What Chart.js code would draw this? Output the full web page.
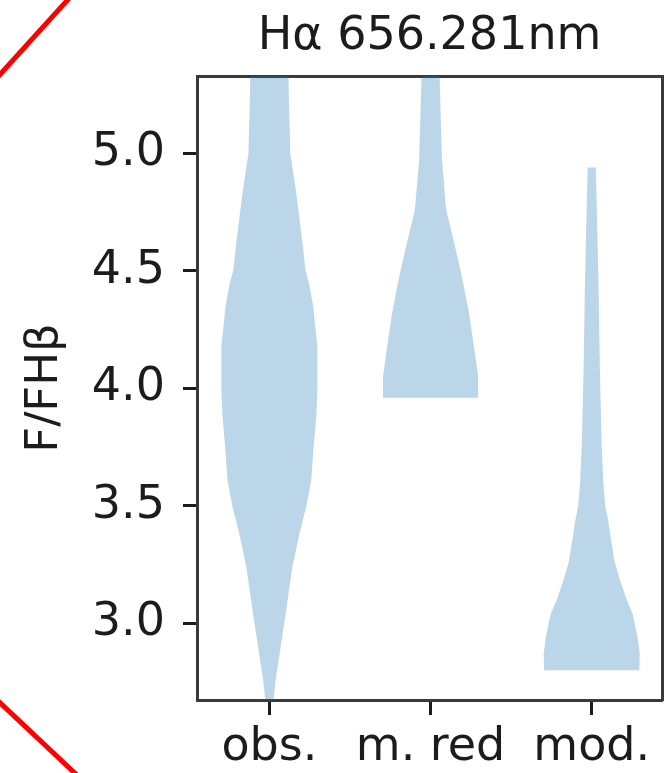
<!DOCTYPE html>
<html>
<head>
<meta charset="utf-8">
<script src="https://cdn.jsdelivr.net/npm/chart.js@4.4.1/dist/chart.umd.min.js"></script>
<style>
  html, body { margin: 0; padding: 0; background: #fff; }
  #wrap { position: relative; width: 665px; height: 773px; }
</style>
</head>
<body>
<div id="wrap"><canvas id="c" width="665" height="773"></canvas></div>
<script>
// Categories along the x axis (violin centres at 0, 1, 2)
const categories = ['obs.', 'm. red', 'mod.'];

// Violin outlines: flux ratio levels and the half-width of the body at each level (x-axis units)
const obsLevels    = [2.67, 2.75, 2.89, 3.03, 3.24, 3.38, 3.50, 3.61, 3.74, 3.89, 4.00, 4.18, 4.26, 4.35, 4.44, 4.50, 4.65, 4.83, 5.00, 5.15, 5.33];
const obsHalfWidth = [0.025, 0.037, 0.068, 0.099, 0.143, 0.186, 0.230, 0.260, 0.273, 0.292, 0.298, 0.298, 0.285, 0.272, 0.248, 0.225, 0.200, 0.167, 0.130, 0.124, 0.118];

const redLevels    = [3.96, 4.05, 4.16, 4.32, 4.49, 4.65, 4.76, 4.97, 5.33];
const redHalfWidth = [0.295, 0.295, 0.273, 0.239, 0.190, 0.136, 0.097, 0.071, 0.056];

const modLevels    = [2.80, 2.87, 2.94, 3.04, 3.10, 3.18, 3.26, 3.35, 3.43, 3.50, 3.59, 3.75, 3.92, 4.10, 4.41, 4.70, 4.94];
const modHalfWidth = [0.295, 0.298, 0.285, 0.254, 0.217, 0.177, 0.143, 0.121, 0.104, 0.084, 0.073, 0.062, 0.056, 0.050, 0.043, 0.034, 0.025];

// Axis ranges and tick labels
const xRange = [-0.449, 2.436];
const yRange = [2.673, 5.33];
const yTicks = [3.0, 3.5, 4.0, 4.5, 5.0];

const titleText = 'Hα 656.281nm';
const yTitleText = 'F/FHβ';

// Closed outline: up the left edge, back down the right edge
function outline(center, levels, half) {
  const left = levels.map((v, i) => ({ x: center - half[i], y: v }));
  const right = levels.map((v, i) => ({ x: center + half[i], y: v })).reverse();
  return left.concat(right);
}

const bodyColor = 'rgba(31,119,180,0.3)';
const violins = [
  [obsLevels, obsHalfWidth],
  [redLevels, redHalfWidth],
  [modLevels, modHalfWidth]
].map(([lv, hw], i) => ({
  label: categories[i],
  data: outline(i, lv, hw),
  showLine: true,
  fill: 'shape',
  backgroundColor: bodyColor,
  borderWidth: 0,
  borderColor: 'rgba(0,0,0,0)',
  pointRadius: 0,
  pointHoverRadius: 0,
  tension: 0
}));

const ink = '#1c1c1c';
const spine = '#3a3a3a';
const FONT = "'DejaVu Sans', sans-serif";

// Red corner strokes at the left edge of the panel
const cornerStrokes = {
  id: 'cornerStrokes',
  afterDraw(chart) {
    const ctx = chart.ctx;
    ctx.save();
    ctx.strokeStyle = '#ff0000';
    ctx.lineWidth = 5;
    ctx.beginPath();
    ctx.moveTo(-5, 80);
    ctx.lineTo(73, -6);
    ctx.moveTo(-5, 698);
    ctx.lineTo(80, 778);
    ctx.stroke();
    ctx.restore();
  }
};

new Chart(document.getElementById('c'), {
  type: 'scatter',
  data: { datasets: violins },
  plugins: [cornerStrokes],
  options: {
    responsive: false,
    animation: false,
    events: [],
    layout: { padding: { left: 0, right: 3, top: 0, bottom: 0 } },
    plugins: {
      legend: { display: false },
      tooltip: { enabled: false },
      title: { display: false }
    },
    scales: {
      x: {
        type: 'linear',
        position: 'bottom',
        min: xRange[0],
        max: xRange[1],
        afterBuildTicks: s => { s.ticks = categories.map((c, i) => ({ value: i })); },
        afterFit: s => { s.height = 73; },
        ticks: {
          callback: v => categories[v],
          color: ink,
          font: { family: FONT, size: 46 },
          padding: 5,
          maxRotation: 0,
          autoSkip: false
        },
        grid: { display: true, drawOnChartArea: false, drawTicks: true, tickLength: 15, tickWidth: 3, tickColor: ink },
        border: { display: true, width: 3, color: spine }
      },
      // top frame line, carrying the panel title centred over the plot
      x2: {
        type: 'linear',
        axis: 'x',
        position: 'top',
        min: xRange[0],
        max: xRange[1],
        afterFit: s => { s.height = 76; },
        ticks: { display: false },
        grid: { display: false },
        border: { display: true, width: 3, color: spine },
        title: {
          display: true,
          text: titleText,
          color: ink,
          font: { family: FONT, size: 46, lineHeight: 1.2 },
          padding: { top: 9, bottom: 0 }
        }
      },
      y: {
        type: 'linear',
        position: 'left',
        min: yRange[0],
        max: yRange[1],
        afterBuildTicks: s => { s.ticks = yTicks.map(v => ({ value: v })); },
        afterFit: s => { s.width = 197; },
        ticks: {
          callback: v => Number(v).toFixed(1),
          color: ink,
          font: { family: FONT, size: 46 },
          padding: 18
        },
        grid: { display: true, drawOnChartArea: false, drawTicks: true, tickLength: 14, tickWidth: 3, tickColor: ink },
        border: { display: true, width: 3, color: spine },
        title: {
          display: true,
          text: yTitleText,
          color: ink,
          font: { family: FONT, size: 45, lineHeight: 1.2 },
          padding: { top: 18, bottom: 0 }
        }
      },
      y2: {
        type: 'linear',
        axis: 'y',
        position: 'right',
        min: yRange[0],
        max: yRange[1],
        afterFit: s => { s.width = 0; },
        ticks: { display: false },
        grid: { display: false },
        border: { display: true, width: 3, color: spine }
      }
    }
  }
});
</script>
</body>
</html>
